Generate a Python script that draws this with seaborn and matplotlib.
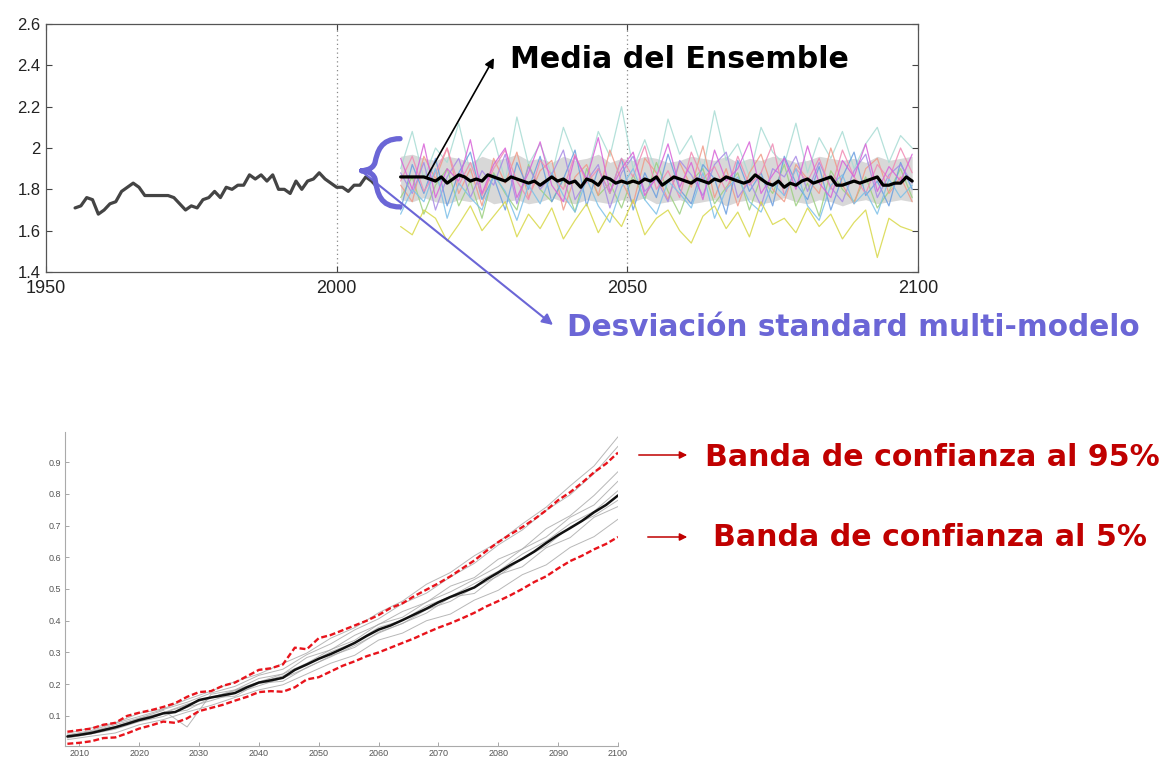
import numpy as np
import matplotlib
matplotlib.use("Agg")
import matplotlib.pyplot as plt
import seaborn as sns
from matplotlib.path import Path
from matplotlib.patches import PathPatch

# ---------------- data: top panel ----------------
hist_years = list(range(1955, 2008))
hist_vals = [1.71, 1.72, 1.76, 1.75, 1.68, 1.70, 1.73, 1.74, 1.79, 1.81,
             1.83, 1.81, 1.77, 1.77, 1.77, 1.77, 1.77, 1.76, 1.73, 1.70,
             1.72, 1.71, 1.75, 1.76, 1.79, 1.76, 1.81, 1.80, 1.82, 1.82,
             1.87, 1.85, 1.87, 1.84, 1.87, 1.80, 1.80, 1.78, 1.84, 1.80,
             1.84, 1.85, 1.88, 1.85, 1.83, 1.81, 1.81, 1.79, 1.82, 1.82,
             1.86, 1.84, 1.81]

ens_years = list(range(2011, 2100))
ens_mean = [1.86, 1.86, 1.86, 1.86, 1.86, 1.85,
            1.84, 1.86, 1.83, 1.85, 1.87, 1.86, 1.84, 1.85, 1.84, 1.87, 1.86, 1.85, 1.84, 1.86,
            1.85, 1.84, 1.83, 1.84, 1.82, 1.84, 1.86, 1.84, 1.85, 1.83, 1.84, 1.81, 1.85, 1.84, 1.82, 1.86, 1.85, 1.83, 1.84, 1.83,
            1.84, 1.83, 1.85, 1.84, 1.86, 1.82, 1.84, 1.86, 1.85, 1.84, 1.83, 1.85, 1.84, 1.83, 1.85, 1.84, 1.86, 1.85, 1.84, 1.83,
            1.84, 1.87, 1.85, 1.83, 1.82, 1.84, 1.81, 1.83, 1.82, 1.84, 1.85, 1.83, 1.84, 1.85, 1.86, 1.82, 1.82, 1.83, 1.84, 1.83,
            1.84, 1.85, 1.86, 1.82, 1.82, 1.83, 1.83, 1.86, 1.84]

mem_years = list(range(2011, 2100, 2))
band_hi = [1.96, 1.97, 1.95, 1.94, 1.96, 1.95, 1.93, 1.96, 1.94, 1.95,
           1.97, 1.94, 1.95, 1.93, 1.96, 1.94, 1.95, 1.97, 1.93, 1.95,
           1.94, 1.96, 1.95, 1.93, 1.94, 1.96, 1.95, 1.94, 1.96, 1.93,
           1.95, 1.94, 1.96, 1.95, 1.93, 1.94, 1.96, 1.95, 1.94, 1.95,
           1.93, 1.96, 1.94, 1.95, 1.96]
band_lo = [1.75, 1.74, 1.76, 1.74, 1.73, 1.75, 1.74, 1.76, 1.73, 1.74,
           1.75, 1.73, 1.74, 1.76, 1.74, 1.73, 1.75, 1.74, 1.73, 1.75,
           1.74, 1.76, 1.73, 1.74, 1.75, 1.73, 1.74, 1.75, 1.72, 1.74,
           1.75, 1.73, 1.74, 1.76, 1.74, 1.73, 1.75, 1.74, 1.72, 1.74,
           1.75, 1.73, 1.74, 1.75, 1.74]

member_blue = [1.70, 1.92, 1.78, 1.95, 1.72, 1.88, 1.98, 1.75, 1.86, 1.70,
               1.93, 1.80, 1.96, 1.74, 1.85, 1.99, 1.72, 1.90, 1.78, 1.95,
               1.70, 1.88, 1.76, 1.97, 1.80, 1.73, 1.92, 1.85, 1.68, 1.94,
               1.79, 1.88, 1.72, 1.96, 1.83, 1.75, 1.91, 1.70, 1.86, 1.98,
               1.77, 1.84, 1.72, 1.93, 1.80]
member_magenta = [1.95, 1.80, 2.02, 1.76, 1.90, 1.84, 2.04, 1.78, 1.92, 2.00,
                  1.76, 1.88, 2.03, 1.82, 1.74, 1.96, 1.85, 2.05, 1.79, 1.90,
                  1.98, 1.77, 1.86, 2.02, 1.81, 1.93, 1.75, 1.99, 1.84, 1.90,
                  2.03, 1.78, 1.87, 1.95, 1.80, 2.01, 1.83, 1.76, 1.94, 1.86,
                  2.02, 1.79, 1.91, 1.84, 1.97]
member_salmon = [1.82, 1.74, 1.96, 1.85, 2.00, 1.78, 1.90, 1.72, 1.95, 1.83,
                 1.98, 1.76, 1.89, 1.94, 1.70, 1.86, 1.92, 1.77, 1.99, 1.84,
                 1.73, 1.95, 1.88, 1.75, 1.93, 1.81, 2.01, 1.76, 1.90, 1.72,
                 1.88, 1.97, 1.80, 1.74, 1.92, 1.85, 1.78, 2.00, 1.82, 1.73,
                 1.90, 1.95, 1.78, 1.86, 1.74]
member_teal = [1.90, 2.08, 1.85, 2.00, 1.93, 2.12, 1.88, 1.98, 2.05, 1.84,
               2.15, 1.92, 2.02, 1.87, 2.10, 1.95, 1.86, 2.08, 1.96, 2.20,
               1.90, 2.04, 1.88, 2.14, 1.97, 2.06, 1.89, 2.18, 1.94, 2.02,
               1.86, 2.10, 1.98, 1.92, 2.12, 1.88, 2.05, 1.95, 2.08, 1.90,
               2.02, 2.10, 1.93, 2.06, 2.00]
member_violet = [1.88, 1.78, 1.93, 1.70, 1.86, 1.95, 1.76, 1.89, 1.82, 1.97,
                 1.73, 1.91, 1.80, 1.87, 1.99, 1.75, 1.84, 1.92, 1.71, 1.88,
                 1.96, 1.79, 1.85, 1.74, 1.94, 1.87, 1.77, 1.92, 1.98, 1.76,
                 1.84, 1.72, 1.90, 1.86, 1.96, 1.79, 1.93, 1.81, 1.74, 1.89,
                 1.97, 1.76, 1.87, 1.92, 1.83]
member_green = [1.76, 1.86, 1.68, 1.82, 1.90, 1.72, 1.84, 1.66, 1.88, 1.78,
                1.70, 1.92, 1.80, 1.74, 1.85, 1.69, 1.90, 1.77, 1.83, 1.71,
                1.87, 1.75, 1.93, 1.79, 1.68, 1.84, 1.90, 1.73, 1.81, 1.88,
                1.70, 1.86, 1.78, 1.92, 1.72, 1.83, 1.67, 1.89, 1.80, 1.74,
                1.86, 1.71, 1.79, 1.90, 1.76]
member_pink = [1.84, 1.96, 1.79, 1.88, 2.00, 1.82, 1.93, 1.77, 1.90, 1.99,
               1.84, 1.75, 1.94, 1.87, 1.80, 1.97, 1.83, 1.90, 1.78, 1.95,
               1.86, 2.01, 1.80, 1.89, 1.76, 1.98, 1.85, 1.91, 1.79, 1.96,
               1.82, 1.88, 2.02, 1.77, 1.90, 1.84, 1.95, 1.80, 1.99, 1.86,
               1.78, 1.92, 1.85, 2.00, 1.88]
member_sky = [1.68, 1.80, 1.74, 1.90, 1.66, 1.83, 1.76, 1.70, 1.87, 1.79,
              1.65, 1.82, 1.73, 1.88, 1.77, 1.69, 1.85, 1.72, 1.64, 1.81,
              1.90, 1.75, 1.68, 1.84, 1.78, 1.71, 1.88, 1.66, 1.80, 1.86,
              1.74, 1.69, 1.83, 1.77, 1.90, 1.72, 1.65, 1.82, 1.87, 1.73,
              1.79, 1.68, 1.85, 1.76, 1.82]
member_yellow = [1.62, 1.58, 1.70, 1.66, 1.55, 1.63, 1.72, 1.60, 1.67, 1.74,
                 1.57, 1.68, 1.61, 1.71, 1.56, 1.65, 1.73, 1.59, 1.69, 1.62,
                 1.75, 1.58, 1.66, 1.70, 1.60, 1.54, 1.67, 1.72, 1.61, 1.69,
                 1.57, 1.74, 1.63, 1.66, 1.59, 1.71, 1.62, 1.68, 1.56, 1.64,
                 1.70, 1.47, 1.66, 1.62, 1.60]

members = [member_teal, member_green, member_salmon, member_blue, member_violet,
           member_pink, member_sky, member_magenta, member_yellow]
member_colors = ["#a8dcd4", "#9cd080", "#f09a88", "#6a9ee0", "#a88ae6",
                 "#f08ab4", "#7cc0e8", "#d862d8", "#d8d848"]

top_yticks = [1.4, 1.6, 1.8, 2.0, 2.2, 2.4, 2.6]
top_yticklabels = ["1.4", "1.6", "1.8", "2", "2.2", "2.4", "2.6"]
top_xticks = [1950, 2000, 2050, 2100]

# ---------------- data: bottom panel ----------------
b_years = list(range(2008, 2101, 2))
b_mean = [0.035, 0.040, 0.046, 0.055, 0.064, 0.075, 0.087, 0.096, 0.108, 0.112,
          0.130, 0.150, 0.158, 0.165, 0.172, 0.190, 0.205, 0.212, 0.220, 0.245,
          0.262, 0.280, 0.295, 0.312, 0.330, 0.352, 0.372, 0.385, 0.402, 0.420,
          0.438, 0.458, 0.475, 0.490, 0.505, 0.530, 0.552, 0.575, 0.595, 0.618,
          0.645, 0.670, 0.692, 0.715, 0.742, 0.765, 0.795]
b_p95 = [0.050, 0.055, 0.060, 0.072, 0.078, 0.100, 0.110, 0.118, 0.128, 0.140,
         0.160, 0.175, 0.178, 0.195, 0.205, 0.225, 0.245, 0.250, 0.262, 0.315,
         0.310, 0.345, 0.355, 0.370, 0.385, 0.400, 0.418, 0.440, 0.455, 0.478,
         0.498, 0.518, 0.540, 0.565, 0.590, 0.620, 0.648, 0.672, 0.695, 0.720,
         0.748, 0.780, 0.805, 0.835, 0.868, 0.895, 0.930]
b_p05 = [0.012, 0.015, 0.020, 0.030, 0.032, 0.045, 0.060, 0.070, 0.082, 0.078,
         0.092, 0.115, 0.125, 0.135, 0.148, 0.160, 0.175, 0.178, 0.176, 0.190,
         0.215, 0.222, 0.240, 0.258, 0.272, 0.288, 0.300, 0.315, 0.330, 0.345,
         0.362, 0.378, 0.392, 0.408, 0.425, 0.445, 0.462, 0.480, 0.500, 0.522,
         0.540, 0.565, 0.588, 0.605, 0.625, 0.642, 0.664]

g_years = list(range(2008, 2101, 4))
gray_members = [
    [.045, .062, .078, .108, .122, .152, .178, .208, .232, .265, .298, .345, .378, .425, .462, .515, .552, .605, .648, .705, .758, .825, .888, .980],
    [.040, .054, .077, .098, .120, .143, .172, .193, .228, .247, .293, .327, .371, .406, .454, .487, .538, .581, .639, .686, .748, .797, .864, .950],
    [.035, .051, .066, .092, .110, .137, .158, .181, .207, .232, .266, .309, .338, .389, .411, .459, .491, .530, .571, .626, .664, .726, .765, .840],
    [.030, .043, .058, .082, .098, .127, .148, .171, .195, .219, .251, .289, .316, .364, .391, .435, .461, .505, .541, .596, .635, .696, .731, .780],
    [.032, .044, .060, .083, .106, .118, .157, .162, .203, .209, .253, .286, .322, .361, .392, .424, .474, .486, .545, .570, .630, .662, .726, .760],
    [.025, .036, .046, .072, .088, .112, .133, .158, .182, .198, .232, .266, .291, .339, .361, .400, .421, .465, .496, .545, .576, .631, .665, .720],
    [.038, .050, .072, .093, .117, .065, .168, .182, .218, .232, .284, .308, .354, .388, .429, .458, .509, .536, .594, .626, .690, .731, .795, .870],
    [.036, .049, .064, .090, .108, .134, .158, .179, .205, .226, .262, .302, .331, .379, .401, .447, .476, .517, .556, .610, .651, .706, .745, .810],
]
bot_yticks = [0.1, 0.2, 0.3, 0.4, 0.5, 0.6, 0.7, 0.8, 0.9]
bot_xticks = [2010, 2020, 2030, 2040, 2050, 2060, 2070, 2080, 2090, 2100]

# ---------------- figure ----------------
sns.set_theme(style="white")
plt.rcParams["font.family"] = ["Liberation Sans", "DejaVu Sans"]

W, H = 1164, 758
fig = plt.figure(figsize=(W / 100, H / 100), dpi=100)
fig.patch.set_facecolor("white")


def fx(px):
    return px / W


def fy(py):
    return 1 - py / H


# top axes
ax1 = fig.add_axes([fx(46), fy(272), fx(918) - fx(46), fy(24) - fy(272)])
ax1.set_xlim(1950, 2100)
ax1.set_ylim(1.4, 2.6)
ax1.axvline(2000, color="#888888", ls=(0, (1, 2.5)), lw=0.9, zorder=0)
ax1.axvline(2050, color="#888888", ls=(0, (1, 2.5)), lw=0.9, zorder=0)

ax1.fill_between(mem_years, band_lo, band_hi, color="#b8b8b8", alpha=0.55, lw=0, zorder=1)
for vals, col in zip(members, member_colors):
    sns.lineplot(x=mem_years, y=vals, ax=ax1, color=col, lw=0.9, alpha=0.85, zorder=2)
sns.lineplot(x=hist_years, y=hist_vals, ax=ax1, color="#444444", lw=2.3, zorder=4)
sns.lineplot(x=ens_years, y=ens_mean, ax=ax1, color="black", lw=2.3, zorder=5)

ax1.set_yticks(top_yticks)
ax1.set_yticklabels(top_yticklabels)
ax1.set_xticks(top_xticks)
ax1.tick_params(axis="both", direction="in", length=4, width=0.8, color="#444444",
                top=True, right=True, left=True, bottom=True, labelcolor="#222222")
ax1.tick_params(axis="y", labelsize=12, pad=4)
ax1.tick_params(axis="x", labelsize=13, pad=6)
for s in ax1.spines.values():
    s.set_color("#555555")
    s.set_linewidth(0.9)
ax1.set_xlabel("")
ax1.set_ylabel("")

# curly brace (annotation decoration)
brace_col = "#6b66d6"
verts = [(2010.9, 2.045), (2007.5, 2.045), (2007.0, 1.98), (2006.6, 1.93),
         (2006.2, 1.89), (2004.3, 1.89), (2004.3, 1.89),
         (2004.3, 1.89), (2006.2, 1.89), (2006.6, 1.85),
         (2007.0, 1.78), (2007.5, 1.715), (2010.9, 1.715)]
codes = [Path.MOVETO, Path.CURVE4, Path.CURVE4, Path.CURVE4,
         Path.CURVE4, Path.CURVE4, Path.CURVE4,
         Path.CURVE4, Path.CURVE4, Path.CURVE4,
         Path.CURVE4, Path.CURVE4, Path.CURVE4]
ax1.add_patch(PathPatch(Path(verts, codes), fill=False, edgecolor=brace_col,
                        lw=3.8, capstyle="round", joinstyle="round", zorder=6,
                        clip_on=False))

# arrows and labels (top)
ax1.annotate("", xy=(fx(494), fy(58)), xycoords="figure fraction",
             xytext=(2015.5, 1.86), textcoords="data",
             arrowprops=dict(arrowstyle="-|>", color="black", lw=1.2,
                             mutation_scale=14, shrinkA=0, shrinkB=0),
             annotation_clip=False, zorder=7)
ax1.annotate("", xy=(fx(553), fy(325)), xycoords="figure fraction",
             xytext=(2004.4, 1.885), textcoords="data",
             arrowprops=dict(arrowstyle="-|>", color=brace_col, lw=1.5,
                             mutation_scale=16, shrinkA=0, shrinkB=0),
             annotation_clip=False, zorder=7)
fig.text(fx(510), fy(60), "Media del Ensemble", fontsize=21.6, fontweight="bold",
         color="black", ha="left", va="center", family=["DejaVu Sans"])
fig.text(fx(567), fy(328), "Desviación standard multi-modelo", fontsize=21.3,
         fontweight="bold", color=brace_col, ha="left", va="center",
         family=["DejaVu Sans"])

# bottom axes
ax2 = fig.add_axes([fx(65), fy(746), fx(618) - fx(65), fy(432) - fy(746)])
ax2.set_xlim(2007.6, 2100)
ax2.set_ylim(0.005, 0.995)
for vals in gray_members:
    sns.lineplot(x=g_years, y=vals, ax=ax2, color="#a6a6a6", lw=0.7, alpha=0.8, zorder=1)
sns.lineplot(x=b_years, y=b_p95, ax=ax2, color="#e8141c", lw=1.7, zorder=3,
             dashes=False, linestyle=(0, (2.5, 1.2)))
sns.lineplot(x=b_years, y=b_p05, ax=ax2, color="#e8141c", lw=1.7, zorder=3,
             dashes=False, linestyle=(0, (2.5, 1.2)))
sns.lineplot(x=b_years, y=b_mean, ax=ax2, color="#111111", lw=1.8, zorder=4)
ax2.set_yticks(bot_yticks)
ax2.set_yticklabels([f"{v:.1f}" for v in bot_yticks])
ax2.set_xticks(bot_xticks)
ax2.tick_params(axis="both", direction="in", length=3, width=0.6, color="#999999",
                labelsize=6.5, labelcolor="#555555", pad=3, left=True, bottom=True)
ax2.tick_params(axis="x", pad=2)
for side in ["top", "right"]:
    ax2.spines[side].set_visible(False)
for side in ["left", "bottom"]:
    ax2.spines[side].set_color("#aaaaaa")
    ax2.spines[side].set_linewidth(0.8)
ax2.set_xlabel("")
ax2.set_ylabel("")

# red arrows and labels (bottom)
red = "#c00000"
for x0, yy in [(636, 455), (645, 537)]:
    fig.add_artist(matplotlib.patches.FancyArrowPatch(
        (fx(x0), fy(yy)), (fx(690), fy(yy)), transform=fig.transFigure,
        arrowstyle="-|>", mutation_scale=11, color=red, lw=1.1))
fig.text(fx(705), fy(457), "Banda de confianza al 95%", fontsize=21.6,
         fontweight="bold", color=red, ha="left", va="center", family=["DejaVu Sans"])
fig.text(fx(713), fy(538), "Banda de confianza al 5%", fontsize=21.6,
         fontweight="bold", color=red, ha="left", va="center", family=["DejaVu Sans"])

fig.savefig("out.png", dpi=100, facecolor="white")
